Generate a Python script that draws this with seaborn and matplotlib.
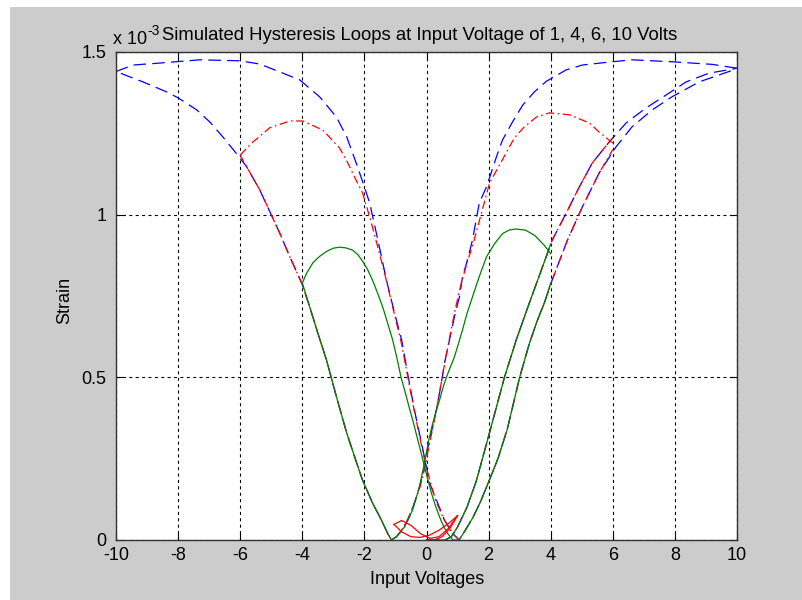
import matplotlib
matplotlib.use("Agg")
import matplotlib.pyplot as plt
from matplotlib.patches import Rectangle
import seaborn as sns

# ---------------- data (strain in units of 1e-3) ----------------
# 10 V loop (blue, dashed)
v10_init_v = [0.0, 0.6, 0.8, 1.0, 1.3, 1.6, 2.03, 2.51, 2.89, 3.31, 3.7, 4.05, 4.5, 4.92,
              5.34, 5.88, 6.43, 7.07, 7.72, 8.36, 9.1, 10.0]
v10_init_s = [0.0, 0.0, 0.01, 0.04, 0.10, 0.18, 0.33, 0.50, 0.615, 0.728, 0.83, 0.922, 1.005,
              1.085, 1.159, 1.223, 1.282, 1.328, 1.368, 1.408, 1.435, 1.45]
v10_down_v = [10.0, 9.2, 7.9, 6.62, 5.98, 5.02, 4.5, 3.86, 3.47, 3.1, 2.77, 2.45, 2.25, 1.93,
              1.7, 1.48, 1.32, 1.16, 1.06, 0.9, 0.74, 0.58, 0.48, 0.35, 0.19, 0.03, -0.06,
              -0.23, -0.39, -0.55, -0.77, -0.97, -1.13, -1.25, -1.45, -1.74, -2.06, -2.25,
              -2.57, -2.9, -3.22, -3.5, -3.76, -4.02, -4.4, -4.73, -5.0, -5.37, -5.79, -6.08,
              -6.56, -6.98, -7.4, -8.0, -8.36, -9.13, -10.0]
v10_down_s = [1.45, 1.462, 1.47, 1.476, 1.47, 1.46, 1.445, 1.41, 1.377, 1.337, 1.285, 1.23,
              1.177, 1.085, 1.036, 0.922, 0.861, 0.809, 0.747, 0.686, 0.615, 0.544, 0.483,
              0.415, 0.345, 0.277, 0.22, 0.163, 0.114, 0.071, 0.031, 0.01, 0.0, 0.02, 0.061,
              0.114, 0.184, 0.237, 0.329, 0.44, 0.553, 0.636, 0.716, 0.79, 0.87, 0.944, 1.0,
              1.076, 1.147, 1.183, 1.239, 1.285, 1.322, 1.359, 1.377, 1.408, 1.44]
v10_up_v = [-10.0, -9.45, -8.59, -7.3, -6.01, -5.37, -4.73, -4.08, -3.44, -2.9, -2.57, -2.22,
            -2.0, -1.83, -1.58, -1.29, -1.03, -0.8, -0.61, -0.39, -0.16, 0.0, 0.1, 0.32, 0.58,
            0.84, 1.05, 1.25, 1.5, 1.75, 2.05, 2.3, 2.6, 3.0, 3.3, 3.55, 3.8, 4.05, 4.54, 5.02,
            5.56, 6.1, 6.62, 7.27, 7.9, 8.78, 9.74, 10.0]
v10_up_s = [1.44, 1.46, 1.466, 1.476, 1.473, 1.463, 1.439, 1.414, 1.362, 1.30, 1.239, 1.147,
            1.085, 1.036, 0.928, 0.799, 0.698, 0.615, 0.513, 0.40, 0.298, 0.224, 0.175, 0.123,
            0.061, 0.02, 0.0, 0.03, 0.07, 0.12, 0.19, 0.25, 0.34, 0.50, 0.60, 0.67, 0.73, 0.80,
            0.922, 1.024, 1.128, 1.208, 1.27, 1.322, 1.362, 1.408, 1.44, 1.45]

# 6 V loop (red, dash-dot)
v6_init_v = [0.0, 0.6, 0.8, 1.0, 1.3, 1.6, 2.03, 2.51, 2.89, 3.31, 3.7, 4.05, 4.5, 4.92,
             5.34, 5.88, 6.0]
v6_init_s = [0.0, 0.0, 0.01, 0.04, 0.10, 0.18, 0.33, 0.50, 0.615, 0.728, 0.83, 0.922, 1.005,
             1.085, 1.159, 1.223, 1.235]
v6_down_v = [6.0, 5.56, 5.24, 4.6, 3.96, 3.54, 3.15, 2.83, 2.44, 2.03, 1.77, 1.5, 1.3, 1.12,
             0.95, 0.78, 0.6, 0.45, 0.3, 0.15, 0.0, -0.2, -0.4, -0.6, -0.8, -1.0, -1.13,
             -1.25, -1.45, -1.74, -2.06, -2.25, -2.57, -2.9, -3.22, -3.5, -3.76, -4.02, -4.4,
             -4.73, -5.0, -5.37, -5.79, -6.0]
v6_down_s = [1.22, 1.254, 1.282, 1.307, 1.313, 1.30, 1.27, 1.236, 1.168, 1.097, 1.005, 0.91,
             0.85, 0.79, 0.72, 0.64, 0.55, 0.47, 0.39, 0.32, 0.25, 0.165, 0.11, 0.065, 0.03,
             0.008, 0.0, 0.02, 0.061, 0.114, 0.184, 0.237, 0.329, 0.44, 0.553, 0.636, 0.716,
             0.79, 0.87, 0.944, 1.0, 1.076, 1.147, 1.183]
v6_up_v = [-6.0, -5.63, -5.05, -4.4, -3.99, -3.34, -2.8, -2.54, -2.32, -2.06, -1.83, -1.65,
           -1.35, -1.05, -0.82, -0.62, -0.4, -0.17, 0.0, 0.3, 0.58, 0.84, 1.05, 1.25, 1.5, 1.75,
           2.05, 2.3, 2.6, 3.0, 3.3, 3.55, 3.8, 4.05, 4.54, 5.02, 5.56, 6.0]
v6_up_s = [1.183, 1.22, 1.267, 1.288, 1.288, 1.26, 1.205, 1.16, 1.116, 1.067, 0.993, 0.93,
           0.82, 0.70, 0.61, 0.51, 0.40, 0.295, 0.22, 0.12, 0.06, 0.02, 0.0, 0.03, 0.07, 0.12,
           0.19, 0.25, 0.34, 0.50, 0.60, 0.67, 0.73, 0.80, 0.922, 1.024, 1.128, 1.20]

# 4 V loop (green, solid)
v4_init_v = [0.0, 0.6, 0.8, 1.0, 1.3, 1.6, 2.03, 2.51, 2.89, 3.31, 3.7, 4.0]
v4_init_s = [0.0, 0.0, 0.01, 0.04, 0.10, 0.18, 0.33, 0.50, 0.615, 0.728, 0.83, 0.91]
v4_down_v = [4.0, 3.8, 3.5, 3.2, 2.89, 2.67, 2.45, 2.2, 1.93, 1.7, 1.48, 1.3, 1.16, 1.03,
             0.9, 0.77, 0.64, 0.53, 0.42, 0.3, 0.19, 0.08, -0.06, -0.23, -0.45, -0.71, -0.97,
             -1.13, -1.25, -1.45, -1.74, -2.06, -2.25, -2.57, -2.9, -3.22, -3.5, -3.76, -4.0]
v4_down_s = [0.88, 0.905, 0.935, 0.952, 0.956, 0.953, 0.942, 0.912, 0.87, 0.81, 0.747, 0.695,
             0.646, 0.604, 0.563, 0.532, 0.50, 0.468, 0.43, 0.392, 0.355, 0.31, 0.24, 0.162,
             0.092, 0.04, 0.01, 0.0, 0.02, 0.061, 0.114, 0.184, 0.237, 0.329, 0.44, 0.553,
             0.636, 0.716, 0.79]
v4_up_v = [-4.0, -3.85, -3.66, -3.44, -3.22, -3.0, -2.8, -2.6, -2.38, -2.2, -2.06, -1.9,
           -1.74, -1.58, -1.41, -1.25, -1.09, -0.95, -0.82, -0.68, -0.55, -0.42, -0.3, -0.18,
           -0.06, 0.05, 0.16, 0.29, 0.42, 0.55, 0.68, 0.85, 1.05, 1.25, 1.5, 1.75, 2.05, 2.3,
           2.6, 3.0, 3.3, 3.55, 3.8, 4.0]
v4_up_s = [0.79, 0.822, 0.852, 0.872, 0.887, 0.897, 0.90, 0.898, 0.891, 0.876, 0.857, 0.832,
           0.799, 0.76, 0.716, 0.666, 0.615, 0.558, 0.50, 0.452, 0.405, 0.36, 0.315, 0.27,
           0.224, 0.183, 0.144, 0.105, 0.071, 0.042, 0.02, 0.0, 0.0, 0.03, 0.07, 0.12, 0.19,
           0.25, 0.34, 0.50, 0.60, 0.67, 0.73, 0.79]

# 1 V loop (red, solid)
v1_init_v = [0.0, 0.25, 0.5, 0.75, 1.0]
v1_init_s = [0.0, 0.0, 0.01, 0.035, 0.075]
v1_down_v = [1.0, 0.7, 0.4, 0.1, -0.2, -0.5, -0.8, -1.05]
v1_down_s = [0.075, 0.05, 0.03, 0.015, 0.008, 0.01, 0.025, 0.048]
v1_up_v = [-1.05, -0.8, -0.5, -0.2, 0.1, 0.4, 0.7, 1.0]
v1_up_s = [0.048, 0.06, 0.045, 0.02, 0.005, 0.01, 0.035, 0.075]

x_ticks = [-10, -8, -6, -4, -2, 0, 2, 4, 6, 8, 10]
y_ticks = [0, 0.5, 1.0, 1.5]
y_tick_labels = ["0", "0.5", "1", "1.5"]

title = "Simulated Hysteresis Loops at Input Voltage of 1, 4, 6, 10 Volts"

# ---------------- figure ----------------
plt.rcParams["lines.scale_dashes"] = False
fonts = ["Liberation Sans", "DejaVu Sans"]
plt.rcParams["font.family"] = fonts

W, H = 802, 600
fig = plt.figure(figsize=(W / 100, H / 100), dpi=100)
fig.patch.set_facecolor("white")
fig.add_artist(Rectangle((10 / W, 0), 1 - 10 / W, 1 - 7 / H, transform=fig.transFigure,
                         facecolor="#cccccc", edgecolor="none", zorder=-10))

ax = fig.add_axes([116 / W, 60 / H, (737 - 116) / W, (540 - 52) / H])
ax.set_facecolor("white")

dash = (0, (9, 4.5))
dashdot = (0, (6, 2.5, 1.2, 2.5))

loops = [
    ([(v10_init_v, v10_init_s), (v10_down_v, v10_down_s), (v10_up_v, v10_up_s)], "#0000ff", dash),
    ([(v6_init_v, v6_init_s), (v6_down_v, v6_down_s), (v6_up_v, v6_up_s)], "#ff0000", dashdot),
    ([(v4_init_v, v4_init_s), (v4_down_v, v4_down_s), (v4_up_v, v4_up_s)], "#008000", "-"),
    ([(v1_init_v, v1_init_s), (v1_down_v, v1_down_s), (v1_up_v, v1_up_s)], "#ff0000", "-"),
]
for branches, color, ls in loops:
    for v, s in branches:
        sns.lineplot(x=v, y=s, sort=False, estimator=None, ax=ax, color=color,
                     linestyle=ls, linewidth=0.9)

ax.set_xlim(-10, 10)
ax.set_ylim(0, 1.5)
ax.set_xticks(x_ticks)
ax.set_xticklabels([str(t) for t in x_ticks])
ax.set_yticks(y_ticks)
ax.set_yticklabels(y_tick_labels)
ax.tick_params(direction="in", top=True, right=True, length=5, width=0.8,
               labelsize=13, colors="black")
ax.tick_params(axis="x", pad=5)
ax.tick_params(axis="y", pad=7)
ax.grid(True, color="black", linestyle=(0, (2.2, 2.4)), linewidth=0.8)
ax.set_axisbelow(True)
for sp in ax.spines.values():
    sp.set_color("#333333")
    sp.set_linewidth(1.0)

ax.set_xlabel("")
ax.set_ylabel("")
fig.text(427 / W, 1 - 579 / H, "Input Voltages", ha="center", va="center", fontsize=13)
fig.text(65 / W, 1 - 300 / H, "Strain", ha="center", va="center", rotation=90, fontsize=13)
fig.text(162 / W, 1 - 36 / H, title, ha="left", va="center", fontsize=13.3)
fig.text(113 / W, 1 - 39 / H, "x 10", ha="left", va="center", fontsize=13)
fig.text(147 / W, 1 - 31 / H, "-3", ha="left", va="center", fontsize=10)

fig.savefig("out.png", dpi=100, facecolor=fig.get_facecolor())
